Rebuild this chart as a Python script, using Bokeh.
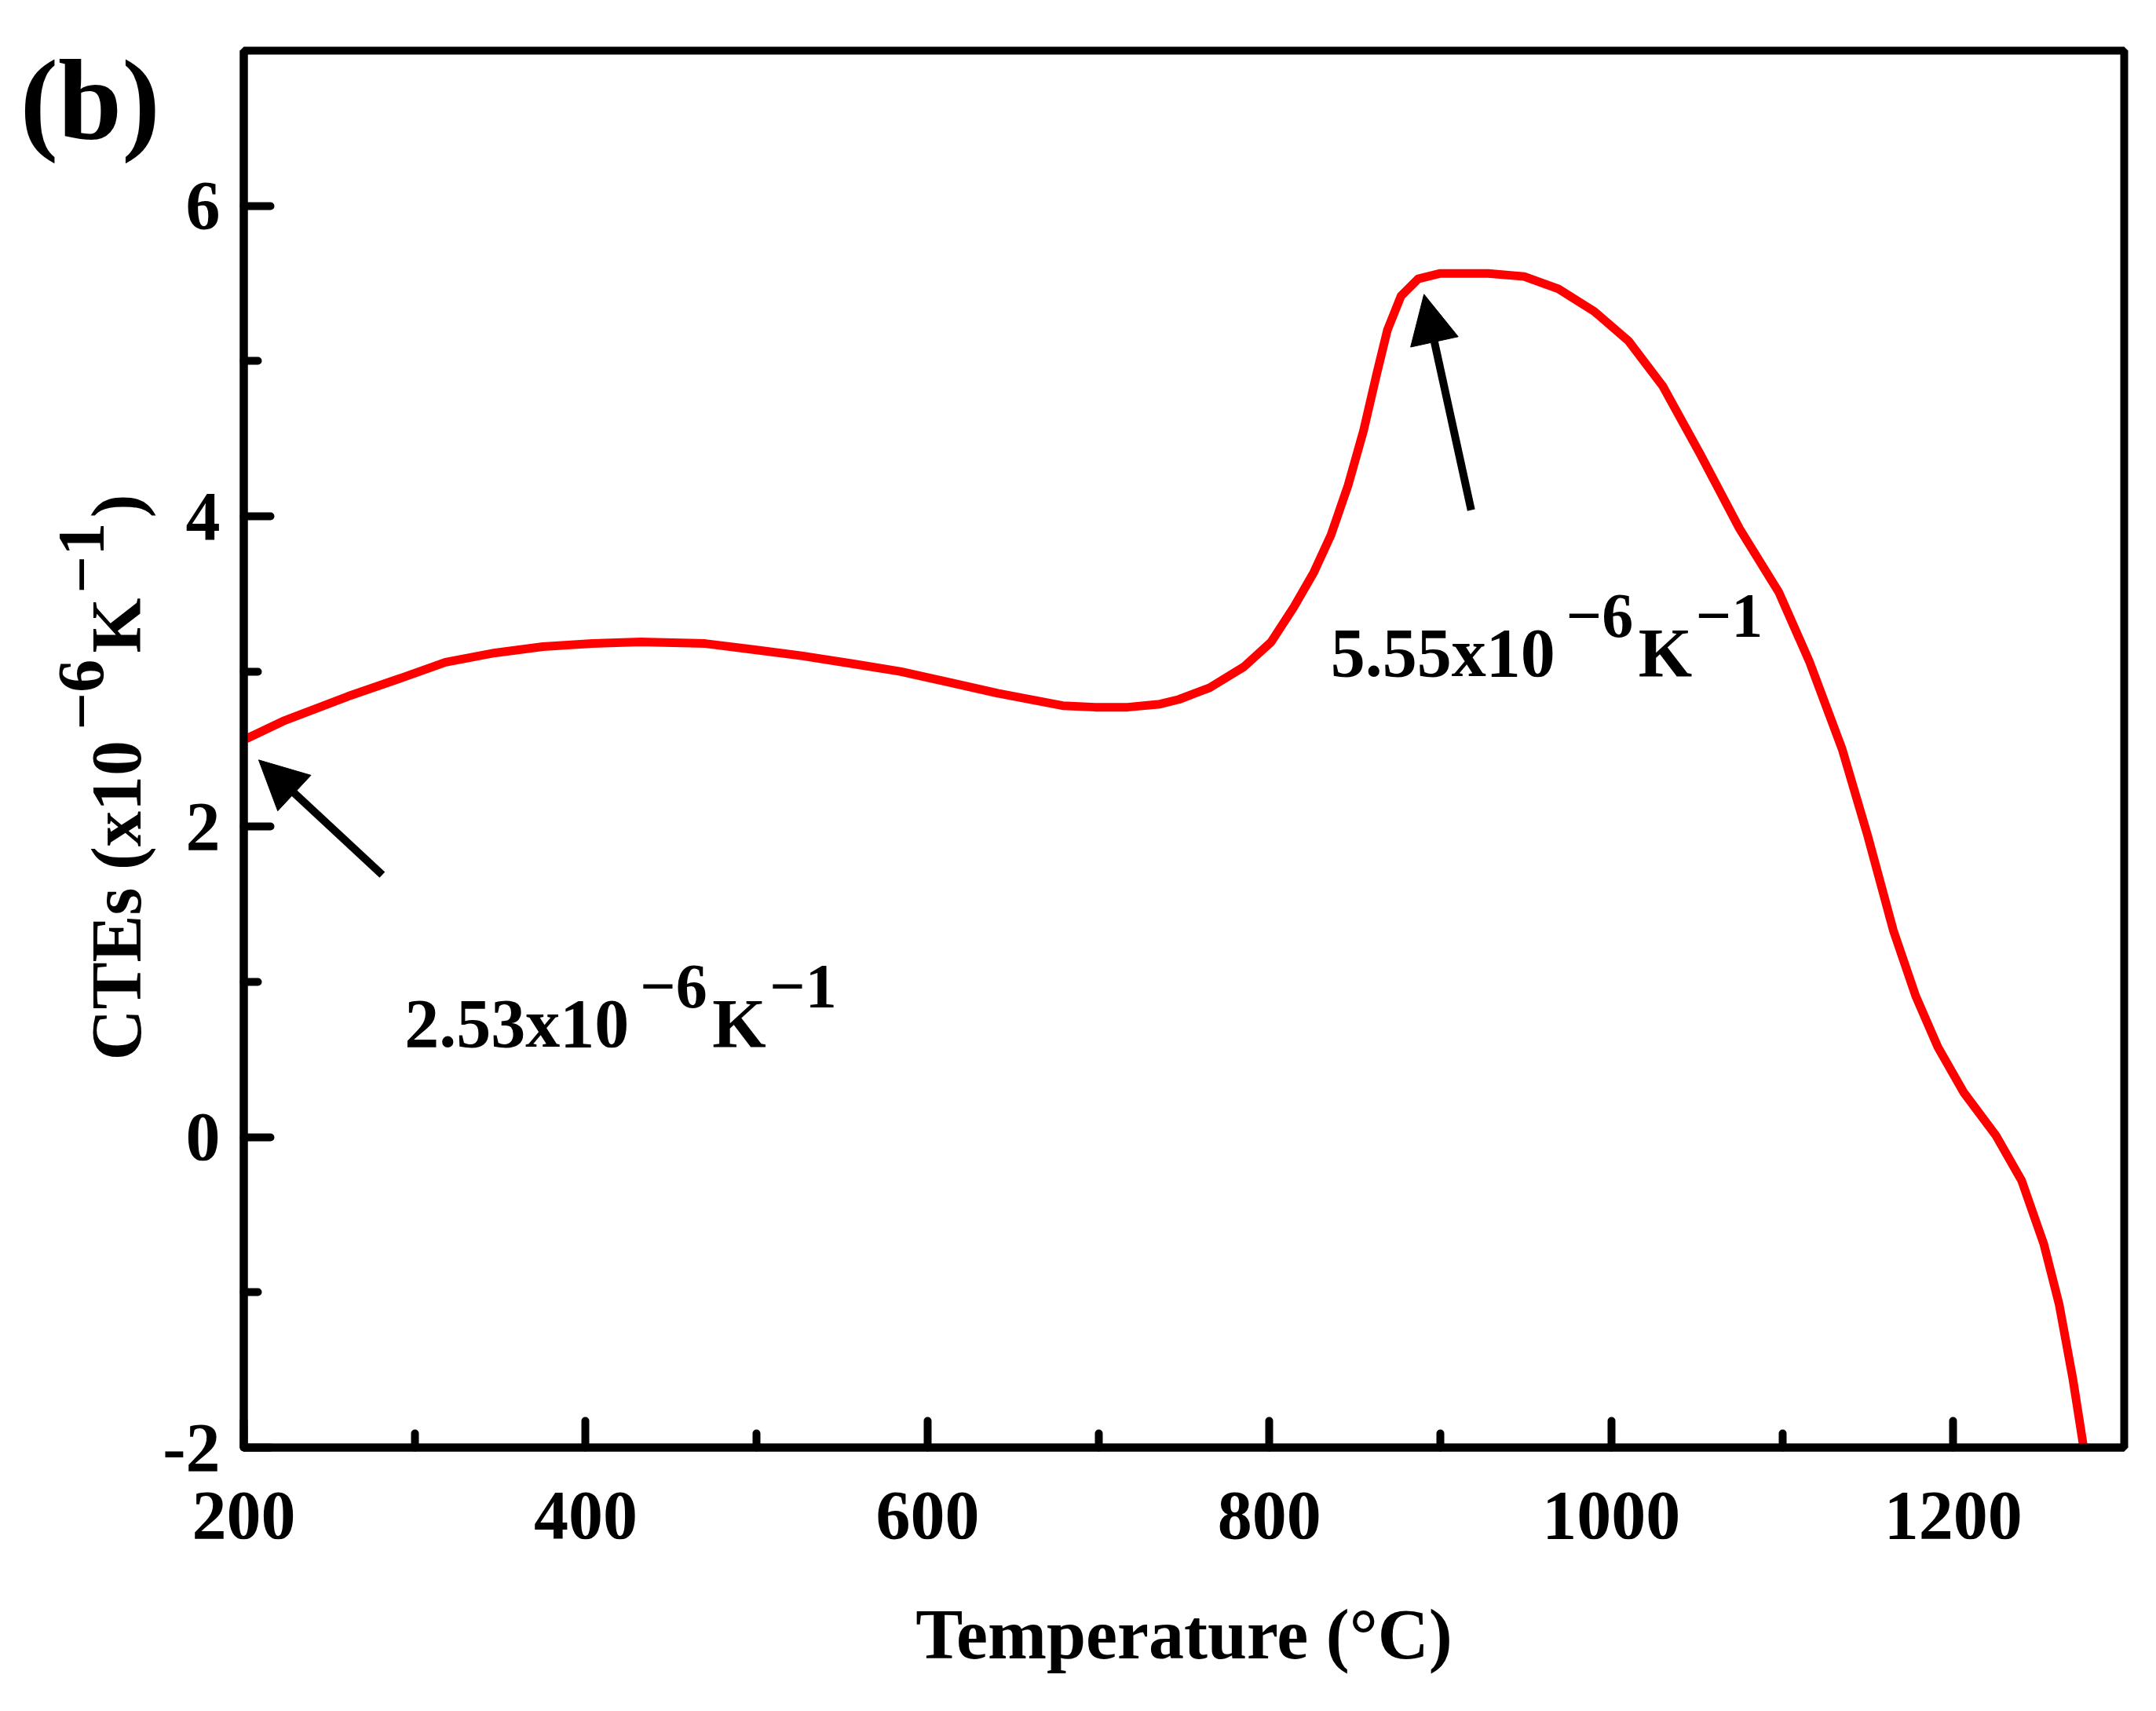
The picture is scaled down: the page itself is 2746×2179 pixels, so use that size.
import math
from bokeh.plotting import figure
from bokeh.layouts import row
from bokeh.models import Range1d, FixedTicker, Label, Arrow, NormalHead
from bokeh.core.properties import value
from bokeh.embed import file_html
from bokeh.resources import INLINE

# ---------------- data ----------------
temperature_c = [202, 223, 261, 290, 318, 347, 375, 404, 432, 470, 499, 527,
                 556, 584, 613, 641, 679, 698, 717, 736, 747, 765, 785, 801,
                 814, 826, 836, 846, 855, 863, 869, 877, 887, 900, 928, 949,
                 969, 990, 1010, 1030, 1052, 1075, 1098, 1116, 1135, 1150,
                 1165, 1178, 1191, 1206, 1225, 1240, 1253, 1262, 1270, 1276]
cte = [2.57, 2.68, 2.84, 2.95, 3.06, 3.12, 3.16, 3.18, 3.19, 3.18, 3.14, 3.10,
       3.05, 3.00, 2.93, 2.86, 2.78, 2.77, 2.77, 2.79, 2.82, 2.895, 3.03, 3.19,
       3.41, 3.64, 3.88, 4.20, 4.55, 4.93, 5.20, 5.42, 5.53, 5.565, 5.565, 5.545,
       5.465, 5.32, 5.13, 4.84, 4.40, 3.92, 3.51, 3.06, 2.50, 1.94,
       1.33, 0.91, 0.58, 0.29, 0.01, -0.28, -0.69, -1.08, -1.56, -1.98]

x_major = [200, 400, 600, 800, 1000, 1200]
x_minor = [300, 500, 700, 900, 1100]
y_major = [-2, 0, 2, 4, 6]
y_minor = [-1, 1, 3, 5]
y_tick_text = ["-2", "0", "2", "4", "6"]

annot_values = ["2.53", "5.55"]
arrow_tail_x = [281, 918]
arrow_tail_y = [1.69, 4.04]
arrow_tip_x = [208.7, 890.4]
arrow_tip_y = [2.43, 5.43]

# ---------------- layout ----------------
W, H = 2730, 2163          # whole page area
SIDE_W = 204               # strip on the left holding the panel tag and y title
BL, BR, BT, BB = 307, 25, 64, 320   # frame borders relative to the whole area
X0, X1, Y0, Y1 = 200, 1300, -2, 7
FW, FH = W - BL - BR, H - BT - BB
FONT = "Liberation Serif"


def to_data(px, py):
    return (X0 + (px - BL) / FW * (X1 - X0), Y1 - (py - BT) / FH * (Y1 - Y0))


# ---------------- side strip (panel tag + rotated y-axis title) ----------------
# its frame spans the same rows as the main frame, so 1 unit = 1 pixel
side = figure(width=SIDE_W, height=H, x_range=Range1d(0, SIDE_W),
              y_range=Range1d(BB, H - BT), output_backend="svg",
              toolbar_location=None, x_axis_location=None, y_axis_location=None,
              min_border_left=0, min_border_right=0,
              min_border_top=BT, min_border_bottom=BB)
side.outline_line_color = None
side.background_fill_color = "white"
side.border_fill_color = "white"
side.xgrid.visible = False
side.ygrid.visible = False


def side_text(x, y, text, size, angle=0.0):
    side.text(x=[x], y=[H - y], text=[text], angle=angle,
              text_font=value(FONT), text_font_style="bold",
              text_font_size=f"{size}px", text_color="black",
              text_align="left", text_baseline="alphabetic")


side_text(25, 127, "(b)", 146)

rot = math.pi / 2
ybx, yby = 148, 1350       # anchor of the rotated title
side_text(ybx, yby, "CTEs (x10", 90, rot)
side_text(ybx - 45, yby - 421, "\u22126", 84, rot)
side_text(ybx, yby - 519, "K", 90, rot)
side_text(ybx - 45, yby - 595, "\u22121", 84, rot)
side_text(ybx, yby - 691, ")", 90, rot)

# ---------------- main plot ----------------
p = figure(width=W - SIDE_W, height=H, x_range=Range1d(X0, X1),
           y_range=Range1d(Y0, Y1), output_backend="svg", toolbar_location=None,
           min_border_left=BL - SIDE_W, min_border_right=BR,
           min_border_top=BT, min_border_bottom=BB)
p.background_fill_color = "white"
p.border_fill_color = "white"
p.xgrid.visible = False
p.ygrid.visible = False
p.outline_line_color = "black"
p.outline_line_width = 10

p.xaxis.ticker = FixedTicker(ticks=x_major, minor_ticks=x_minor)
p.yaxis.ticker = FixedTicker(ticks=y_major, minor_ticks=y_minor)
p.yaxis.major_label_overrides = {v: t for v, t in zip(y_major, y_tick_text)}

for ax in (p.xaxis[0], p.yaxis[0]):
    ax.axis_line_width = 10
    ax.axis_line_color = "black"
    ax.major_tick_in = 34
    ax.major_tick_out = 0
    ax.minor_tick_in = 18
    ax.minor_tick_out = 0
    ax.major_tick_line_width = 10
    ax.minor_tick_line_width = 10
    ax.major_tick_line_cap = "round"
    ax.minor_tick_line_cap = "round"
    ax.major_tick_line_color = "black"
    ax.minor_tick_line_color = "black"
    ax.major_label_text_font = FONT
    ax.major_label_text_font_style = "bold"
    ax.major_label_text_font_size = "88px"
    ax.major_label_text_color = "black"

p.xaxis.major_label_standoff = 57
p.yaxis.major_label_standoff = 30
p.xaxis.axis_label = "Temperature (°C)"
p.xaxis.axis_label_text_font = FONT
p.xaxis.axis_label_text_font_style = "bold"
p.xaxis.axis_label_text_font_size = "90px"
p.xaxis.axis_label_text_color = "black"
p.xaxis.axis_label_standoff = 70

# curve
p.line(temperature_c, cte, line_color="#ff0000", line_width=11,
       line_join="round", line_cap="round")

# arrows
for xs, ys, xe, ye in zip(arrow_tail_x, arrow_tail_y, arrow_tip_x, arrow_tip_y):
    p.add_layout(Arrow(x_start=xs, y_start=ys, x_end=xe, y_end=ye,
                       line_width=10, line_color="black",
                       end=NormalHead(size=62, fill_color="black",
                                      line_color="black", line_width=1)))


def add_text(x, y, text, size, dx=0, dy=0):
    p.add_layout(Label(x=x, y=y, x_offset=dx, y_offset=dy, text=text,
                       text_font=FONT, text_font_style="bold",
                       text_font_size=f"{size}px", text_color="black",
                       text_align="left", text_baseline="alphabetic"))


# annotations "2.53x10^-6K^-1" and "5.55x10^-6K^-1"
annot_pos = [(512, 1303), (1693, 831)]
for val, (px, py) in zip(annot_values, annot_pos):
    ax_, ay_ = to_data(px, py)
    add_text(ax_, ay_, val + "x10", 88)
    add_text(ax_, ay_, "\u22126", 80, dx=300, dy=47)
    add_text(ax_, ay_, "K", 88, dx=392)
    add_text(ax_, ay_, "\u22121", 80, dx=465, dy=47)

layout = row(side, p, spacing=0)
open("out.html", "w").write(file_html(layout, INLINE))
